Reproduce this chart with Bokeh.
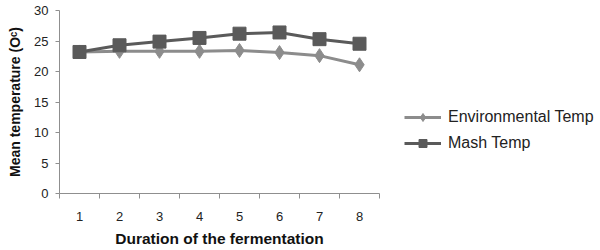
from bokeh.plotting import figure
from bokeh.models import FixedTicker, Legend, LegendItem, Range1d
from bokeh.embed import file_html
from bokeh.resources import INLINE

days = [1, 2, 3, 4, 5, 6, 7, 8]
env_temp = [23.2, 23.3, 23.3, 23.3, 23.45, 23.1, 22.6, 21.1]
mash_temp = [23.2, 24.3, 24.9, 25.5, 26.2, 26.4, 25.3, 24.55]
y_ticks = [0, 5, 10, 15, 20, 25, 30]

env_color = "#8c8c8c"
mash_color = "#5a5a5a"
font = "Liberation Sans"

p = figure(frame_width=320, frame_height=183, output_backend="svg",
           toolbar_location=None, min_border_left=59, min_border_top=10,
           min_border_bottom=10, min_border_right=205,
           x_range=Range1d(0.5, 8.5), y_range=Range1d(0, 30))
p.outline_line_color = None
p.xgrid.grid_line_color = None
p.ygrid.grid_line_color = None

l1 = p.line(days, env_temp, line_color=env_color, line_width=3)
s1 = p.scatter(days, env_temp, marker="diamond", size=14, fill_color=env_color,
               line_color=env_color)
l2 = p.line(days, mash_temp, line_color=mash_color, line_width=3)
s2 = p.scatter(days, mash_temp, marker="square", size=13, fill_color=mash_color,
               line_color=mash_color)

p.xaxis.ticker = FixedTicker(ticks=days, minor_ticks=[d - 0.5 for d in days] + [8.5])
p.xaxis.major_tick_out = 0
p.xaxis.major_tick_in = 0
p.xaxis.minor_tick_out = 5
p.xaxis.minor_tick_in = 0
p.xaxis.major_label_standoff = 13
p.xaxis.axis_label = "Duration of the fermentation"
p.xaxis.axis_label_standoff = 6

p.yaxis.ticker = FixedTicker(ticks=y_ticks)
p.yaxis.minor_tick_line_color = None
p.yaxis.major_tick_out = 4
p.yaxis.major_tick_in = 0
p.yaxis.major_label_standoff = 7
p.yaxis.axis_label = "Mean temperature (O\u1d9c)"
p.yaxis.axis_label_standoff = 8

for ax in (p.xaxis, p.yaxis):
    ax.axis_line_color = "#8f8f8f"
    ax.major_tick_line_color = "#8f8f8f"
    ax.major_label_text_font = font
    ax.major_label_text_font_size = "13px"
    ax.major_label_text_color = "#222222"
    ax.axis_label_text_font = font
    ax.axis_label_text_font_style = "bold"
    ax.axis_label_text_color = "#111111"
p.xaxis.minor_tick_line_color = "#8f8f8f"
p.xaxis.axis_label_text_font_size = "15.5px"
p.yaxis.axis_label_text_font_size = "14px"

legend = Legend(items=[LegendItem(label="Environmental Temp", renderers=[l1, s1]),
                       LegendItem(label="Mash Temp", renderers=[l2, s2])],
                location=(25, 40), glyph_width=37, glyph_height=20,
                spacing=6, padding=0, margin=0, label_standoff=7,
                label_text_font=font, label_text_font_size="16px",
                label_text_color="#222222", border_line_color=None,
                background_fill_alpha=0)
p.add_layout(legend, "right")

open("out.html", "w").write(file_html(p, INLINE))
